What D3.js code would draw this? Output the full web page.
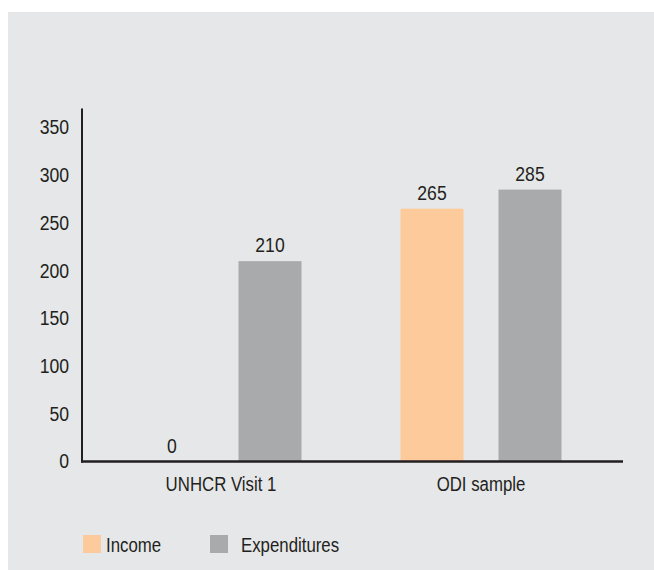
<!DOCTYPE html>
<html>
<head>
<meta charset="utf-8">
<script src="https://cdn.jsdelivr.net/npm/d3@7"></script>
<style>
  html, body { margin: 0; padding: 0; background: #ffffff; }
  svg { display: block; }
  text { font-family: "Liberation Sans Narrow", "Arial Narrow", "Liberation Sans", Arial, sans-serif; fill: #231f20; }
</style>
</head>
<body>
<script>
const categories = ["UNHCR Visit 1", "ODI sample"];
const seriesNames = ["Income", "Expenditures"];
const incomeValues = [0, 265];
const expenditureValues = [210, 285];
const yTicks = [0, 50, 100, 150, 200, 250, 300, 350];
const seriesColors = ["#fdcb9b", "#a9aaac"];

const W = 654, H = 570;
const FS = 20;
const svg = d3.select("body").append("svg").attr("width", W).attr("height", H);

svg.append("rect").attr("x", 8).attr("y", 12).attr("width", W - 8).attr("height", H - 12).attr("fill", "#e6e7e8");

const y = d3.scaleLinear().domain([0, 370]).range([461.5, 108.5]);
const x0 = d3.scaleBand().domain(categories).range([91, 611]).padding(0);
const x1 = d3.scaleBand().domain(seriesNames).range([49.5, 210.5]).paddingInner(35 / 98).paddingOuter(0);

const data = categories.map((c, i) => ({
  cat: c,
  vals: [
    { s: seriesNames[0], v: incomeValues[i], color: seriesColors[0] },
    { s: seriesNames[1], v: expenditureValues[i], color: seriesColors[1] }
  ]
}));

const groups = svg.selectAll("g.grp").data(data).enter().append("g")
  .attr("class", "grp")
  .attr("transform", d => `translate(${x0(d.cat)},0)`);

groups.selectAll("rect").data(d => d.vals).enter().append("rect")
  .attr("x", d => x1(d.s))
  .attr("width", x1.bandwidth())
  .attr("y", d => y(d.v))
  .attr("height", d => y(0) - y(d.v))
  .attr("fill", d => d.color);

groups.selectAll("text.val").data(d => d.vals).enter().append("text")
  .attr("class", "val")
  .attr("x", d => x1(d.s) + x1.bandwidth() / 2)
  .attr("y", d => y(d.v) - 9)
  .attr("text-anchor", "middle")
  .attr("font-size", FS)
  .text(d => d.v);

// Y axis
const yAxis = d3.axisLeft(y).tickValues(yTicks).tickSize(0).tickPadding(13);
const yg = svg.append("g").attr("transform", "translate(82,0)").call(yAxis);
yg.select(".domain").remove();
yg.selectAll("text").attr("font-size", FS).style("font-family", null).attr("fill", "#231f20");
yg.attr("font-family", null).attr("font-size", null);
svg.append("line").attr("x1", 82).attr("x2", 82).attr("y1", 108.5).attr("y2", 462.5)
  .attr("stroke", "#231f20").attr("stroke-width", 2);

// X axis
const xAxis = d3.axisBottom(x0).tickSize(0).tickPadding(15);
const xg = svg.append("g").attr("transform", `translate(0,${y(0)})`).call(xAxis);
xg.select(".domain").remove();
xg.selectAll("text").attr("font-size", FS).attr("fill", "#231f20");
xg.attr("font-family", null).attr("font-size", null);
svg.append("line").attr("x1", 81).attr("x2", 623).attr("y1", y(0)).attr("y2", y(0))
  .attr("stroke", "#231f20").attr("stroke-width", 2.5);

// Legend
const legendX = [83, 210];
const legendTextX = [23, 31];
const lg = svg.selectAll("g.leg").data(seriesNames).enter().append("g")
  .attr("class", "leg")
  .attr("transform", (d, i) => `translate(${legendX[i]},535)`);
lg.append("rect").attr("width", 18).attr("height", 18).attr("fill", (d, i) => seriesColors[i]);
lg.append("text").attr("x", (d, i) => legendTextX[i]).attr("y", 17).attr("font-size", FS).text(d => d);

// Condense text to mimic a narrow typeface
svg.selectAll("text").each(function () {
  const L = this.getComputedTextLength();
  const isNum = /^[0-9]+$/.test(this.textContent);
  d3.select(this).attr("textLength", L * (isNum ? 0.88 : 0.84)).attr("lengthAdjust", "spacingAndGlyphs");
});
</script>
</body>
</html>
